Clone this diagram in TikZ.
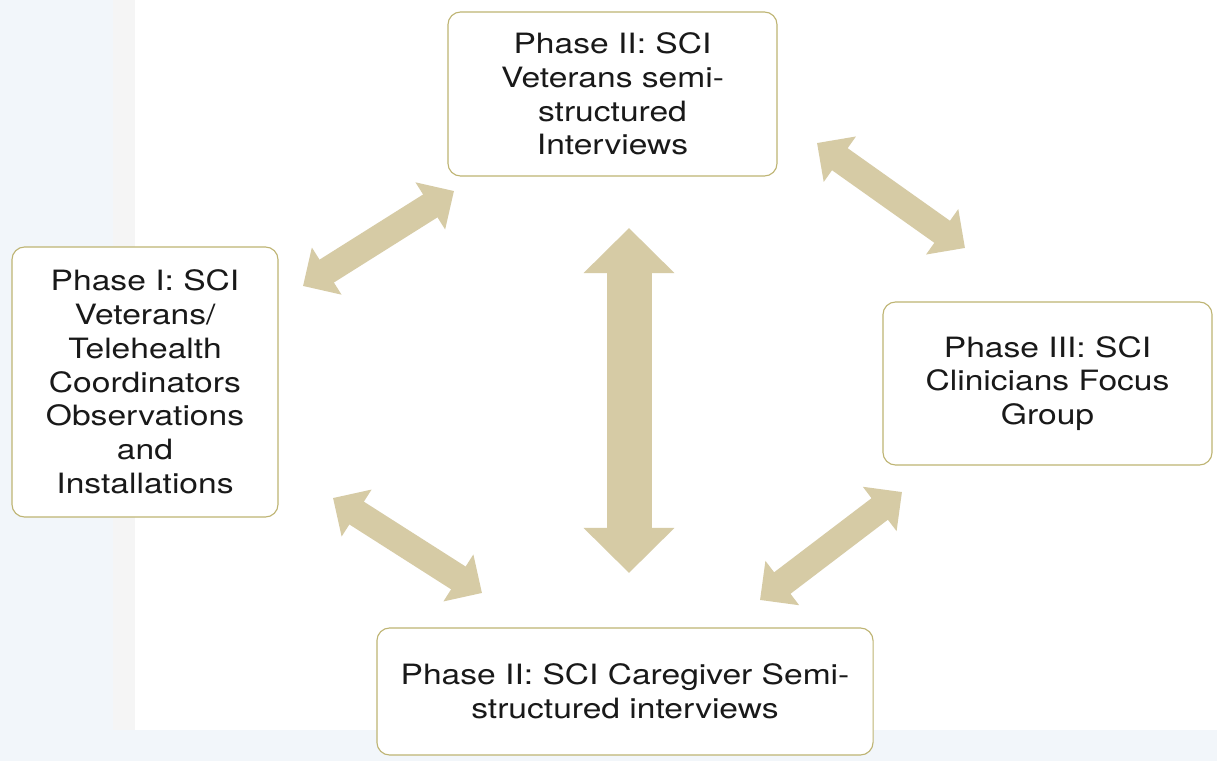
\documentclass[tikz,border=0pt]{standalone}
\usepackage{fontspec}
\setmainfont[FakeStretch=1.2]{TeX Gyre Heros}
\usetikzlibrary{arrows.meta}

\definecolor{bgblue}{RGB}{242,246,250}
\definecolor{bggray}{RGB}{245,245,245}
\definecolor{boxline}{RGB}{190,180,115}
\definecolor{tan}{RGB}{214,203,165}
\definecolor{ink}{RGB}{25,25,25}

\begin{document}
\begin{tikzpicture}[x=0.025cm,y=-0.025cm,
 font=\fontsize{19.9pt}{24pt}\selectfont,
 phase/.style={draw=boxline,line width=.8pt,fill=white,rounded corners=9pt,align=center,text=ink,inner sep=0pt},
 arr/.style={tan,line width=.675cm,{Triangle[length=.7cm,width=1.35cm]}-{Triangle[length=.7cm,width=1.35cm]}},
 bigarr/.style={tan,line width=1.125cm,{Triangle[length=1.125cm,width=2.2cm]}-{Triangle[length=1.125cm,width=2.2cm]}}]
\useasboundingbox (0,0) rectangle (1217,761);
\fill[bgblue] (0,0) rectangle (1217,761);
\fill[bggray] (113,0) rectangle (135,730);
\fill[white] (135,0) rectangle (1217,730);

\node[phase,minimum width=8.225cm,minimum height=4.1cm] (p2v) at (612.5,94) {Phase II: SCI\\Veterans semi-\\structured\\Interviews};
\node[phase,minimum width=6.65cm,minimum height=6.75cm] (p1) at (145,382) {Phase I: SCI\\Veterans/\\Telehealth\\Coordinators\\Observations\\and\\Installations};
\node[phase,minimum width=8.225cm,minimum height=4.075cm] (p3) at (1047.5,383.5) {Phase III: SCI\\Clinicians Focus\\Group};
\node[phase,minimum width=12.4cm,minimum height=3.175cm] (p2c) at (625,691.5) {Phase II: SCI Caregiver Semi-\\structured interviews};

% arrow ends
\coordinate (tl1) at (303,286); \coordinate (tl2) at (454,191);
\coordinate (tr1) at (817,143); \coordinate (tr2) at (965,248);
\coordinate (bl1) at (333,498); \coordinate (bl2) at (482,593);
\coordinate (br1) at (760,600); \coordinate (br2) at (902,492);
\coordinate (mid1) at (629,228); \coordinate (mid2) at (629,573);

\draw[arr] (tl1)--(tl2); \draw[arr] (tr1)--(tr2);
\draw[arr] (bl1)--(bl2); \draw[arr] (br1)--(br2);
\draw[bigarr] (mid1)--(mid2);
\end{tikzpicture}
\end{document}
